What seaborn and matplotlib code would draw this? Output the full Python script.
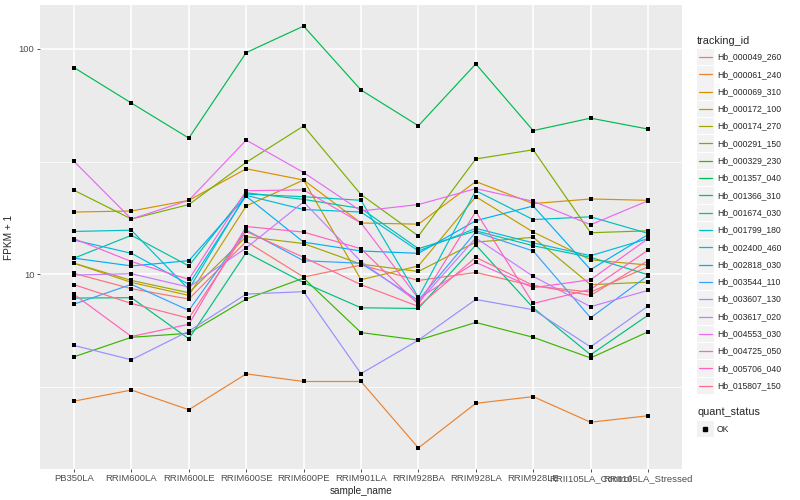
import matplotlib
matplotlib.use('Agg')
import matplotlib.pyplot as plt
from matplotlib.patches import Rectangle
from matplotlib.lines import Line2D
from matplotlib.ticker import FixedLocator, NullFormatter
import numpy as np
import pandas as pd
import seaborn as sns

samples = ['PB350LA', 'RRIM600LA', 'RRIM600LE', 'RRIM600SE', 'RRIM600PE',
           'RRIM901LA', 'RRIM928BA', 'RRIM928LA', 'RRIM928LE',
           'RRII105LA_Control', 'RRII105LA_Stressed']

# FPKM + 1
hb_000049_260 = [10.1, 8.64, 7.77, 14.0, 9.73, 11.0, 9.40, 10.2, 8.89, 8.35, 10.8]
hb_000061_240 = [2.74, 3.07, 2.51, 3.62, 3.35, 3.35, 1.70, 2.68, 2.87, 2.21, 2.36]
hb_000069_310 = [18.9, 19.1, 21.3, 29.4, 26.2, 16.9, 16.7, 25.8, 20.6, 21.6, 21.3]
hb_000172_100 = [11.2, 9.21, 8.07, 20.1, 26.2, 9.47, 10.9, 22.1, 15.4, 11.6, 11.0]
hb_000174_270 = [11.2, 9.40, 8.29, 14.7, 13.7, 11.1, 10.3, 13.9, 14.6, 9.0, 9.24]
hb_000291_150 = [23.6, 17.6, 20.4, 31.4, 45.5, 22.6, 14.8, 32.5, 35.7, 15.3, 15.6]
hb_000329_230 = [4.31, 5.26, 5.48, 7.77, 9.63, 5.52, 5.11, 6.12, 5.26, 4.26, 5.56]
hb_001357_040 = [82.6, 57.5, 40.2, 96.3, 126.2, 65.7, 45.6, 85.8, 43.4, 49.3, 44.1]
hb_001366_310 = [7.85, 7.88, 5.18, 12.5, 9.19, 7.11, 7.06, 13.5, 7.11, 4.40, 6.59]
hb_001674_030 = [11.8, 14.9, 10.9, 23.0, 21.5, 19.6, 13.0, 15.6, 13.4, 11.9, 9.97]
hb_001799_180 = [15.5, 15.7, 8.58, 22.7, 22.1, 21.3, 7.90, 23.5, 17.5, 18.0, 15.2]
hb_002400_460 = [14.2, 12.4, 9.03, 22.4, 19.4, 18.9, 12.7, 16.0, 13.8, 12.1, 14.4]
hb_002818_030 = [11.8, 10.9, 11.5, 22.2, 13.9, 12.7, 12.4, 17.3, 20.1, 10.5, 15.0]
hb_003544_110 = [7.38, 9.03, 6.92, 15.7, 11.5, 11.2, 7.66, 15.4, 12.7, 6.42, 9.87]
hb_003607_130 = [4.84, 4.18, 5.60, 8.18, 8.38, 3.63, 5.11, 7.74, 6.97, 4.77, 7.23]
hb_003617_020 = [9.93, 10.07, 8.78, 13.1, 20.96, 11.4, 7.51, 14.5, 9.80, 7.19, 8.49]
hb_004553_030 = [31.7, 17.6, 21.3, 39.4, 28.3, 19.1, 20.4, 24.0, 21.1, 16.6, 21.2]
hb_004725_050 = [14.4, 11.4, 9.50, 23.5, 23.7, 16.9, 7.82, 11.3, 8.73, 9.47, 14.4]
hb_005706_040 = [8.15, 5.30, 6.01, 16.3, 15.4, 13.0, 7.36, 19.0, 7.43, 8.58, 12.8]
hb_015807_150 = [9.0, 7.43, 6.39, 15.5, 11.9, 9.0, 7.21, 11.9, 8.94, 8.07, 11.5]

tracking_ids = ['Hb_000049_260', 'Hb_000061_240', 'Hb_000069_310', 'Hb_000172_100',
                'Hb_000174_270', 'Hb_000291_150', 'Hb_000329_230', 'Hb_001357_040',
                'Hb_001366_310', 'Hb_001674_030', 'Hb_001799_180', 'Hb_002400_460',
                'Hb_002818_030', 'Hb_003544_110', 'Hb_003607_130', 'Hb_003617_020',
                'Hb_004553_030', 'Hb_004725_050', 'Hb_005706_040', 'Hb_015807_150']
series = [hb_000049_260, hb_000061_240, hb_000069_310, hb_000172_100,
          hb_000174_270, hb_000291_150, hb_000329_230, hb_001357_040,
          hb_001366_310, hb_001674_030, hb_001799_180, hb_002400_460,
          hb_002818_030, hb_003544_110, hb_003607_130, hb_003617_020,
          hb_004553_030, hb_004725_050, hb_005706_040, hb_015807_150]

# ggplot2 default hue palette for 20 levels
colors = ['#F8766D', '#EA8331', '#D89000', '#C09B00', '#A3A500', '#7CAE00',
          '#39B600', '#00BB4E', '#00BF7D', '#00C1A3', '#00BFC4', '#00BAE0',
          '#00B0F6', '#35A2FF', '#9590FF', '#C77CFF', '#E76BF3', '#FA62DB',
          '#FF62BC', '#FF6C91']

rows = []
for tid, vals in zip(tracking_ids, series):
    for s, v in zip(samples, vals):
        rows.append((tid, s, v, 'OK'))
df = pd.DataFrame(rows, columns=['tracking_id', 'sample_name', 'fpkm', 'quant_status'])
df['x'] = df['sample_name'].map({s: i for i, s in enumerate(samples)})

sns.set_theme(style='darkgrid', rc={'axes.facecolor': '#EBEBEB', 'grid.color': 'white'})
plt.rcParams['font.family'] = ['Liberation Sans', 'DejaVu Sans']

fig = plt.figure(figsize=(8, 5), dpi=100)
ax = fig.add_axes([39.6 / 800, 31 / 500, (682.4 - 39.6) / 800, (469 - 5) / 500])

sns.lineplot(data=df, x='x', y='fpkm', hue='tracking_id', hue_order=tracking_ids,
             palette=colors, estimator=None, sort=False, linewidth=0.85,
             legend=False, ax=ax, zorder=2)
sns.scatterplot(data=df, x='x', y='fpkm', color='black', marker='s', s=7,
                linewidth=0, legend=False, ax=ax, zorder=3)

ax.set_yscale('log')
lo = np.log10(df['fpkm'].min())
hi = np.log10(df['fpkm'].max())
pad = (hi - lo) * 0.05
ax.set_ylim(10 ** (lo - pad), 10 ** (hi + pad))
ax.set_xlim(-0.6, len(samples) - 0.4)

ax.yaxis.set_major_locator(FixedLocator([10, 100]))
ax.yaxis.set_minor_locator(FixedLocator([10 ** 0.5, 10 ** 1.5]))
ax.yaxis.set_minor_formatter(NullFormatter())
ax.set_yticklabels(['10', '100'])
ax.set_xticks(range(len(samples)))
ax.set_xticklabels(samples)

ax.grid(which='major', color='white', linewidth=1.1)
ax.grid(which='minor', axis='y', color='white', linewidth=0.55)
for sp in ax.spines.values():
    sp.set_visible(False)
ax.tick_params(which='major', length=2.3, width=0.6, color='#333333',
               labelsize=6.8, labelcolor='#4D4D4D', pad=1.5)
ax.tick_params(which='minor', length=0)
ax.tick_params(axis='x', bottom=True)
ax.tick_params(axis='y', left=True)

ax.set_xlabel('sample_name', fontsize=7.2, labelpad=2)
ax.set_ylabel('FPKM + 1', fontsize=7.2, labelpad=3)

# legend, ggplot style, placed in pixel units
def fx(x):
    return x / 800

def fy(y):
    return 1 - y / 500

fig.text(fx(697), fy(40.5), 'tracking_id', fontsize=7.8, va='center', ha='left')
row_h = 17.3
for i, (tid, c) in enumerate(zip(tracking_ids, colors)):
    yc = 57 + i * row_h
    fig.patches.append(Rectangle((fx(697), fy(yc + 8.2)), 17 / 800, 16.4 / 500,
                                 transform=fig.transFigure, facecolor='#F2F2F2',
                                 edgecolor='none'))
    fig.lines.append(Line2D([fx(699), fx(712)], [fy(yc), fy(yc)],
                            transform=fig.transFigure, color=c, linewidth=0.9))
    fig.text(fx(717), fy(yc), tid, fontsize=6.2, va='center', ha='left')

fig.text(fx(697), fy(412), 'quant_status', fontsize=7.8, va='center', ha='left')
fig.patches.append(Rectangle((fx(697), fy(429 + 8.2)), 17 / 800, 16.4 / 500,
                             transform=fig.transFigure, facecolor='#F2F2F2',
                             edgecolor='none'))
fig.lines.append(Line2D([fx(705)], [fy(429)], transform=fig.transFigure,
                        marker='s', markersize=2.6, color='black', linestyle='none'))
fig.text(fx(717), fy(429), 'OK', fontsize=6.2, va='center', ha='left')

fig.savefig('out.png', dpi=100)
